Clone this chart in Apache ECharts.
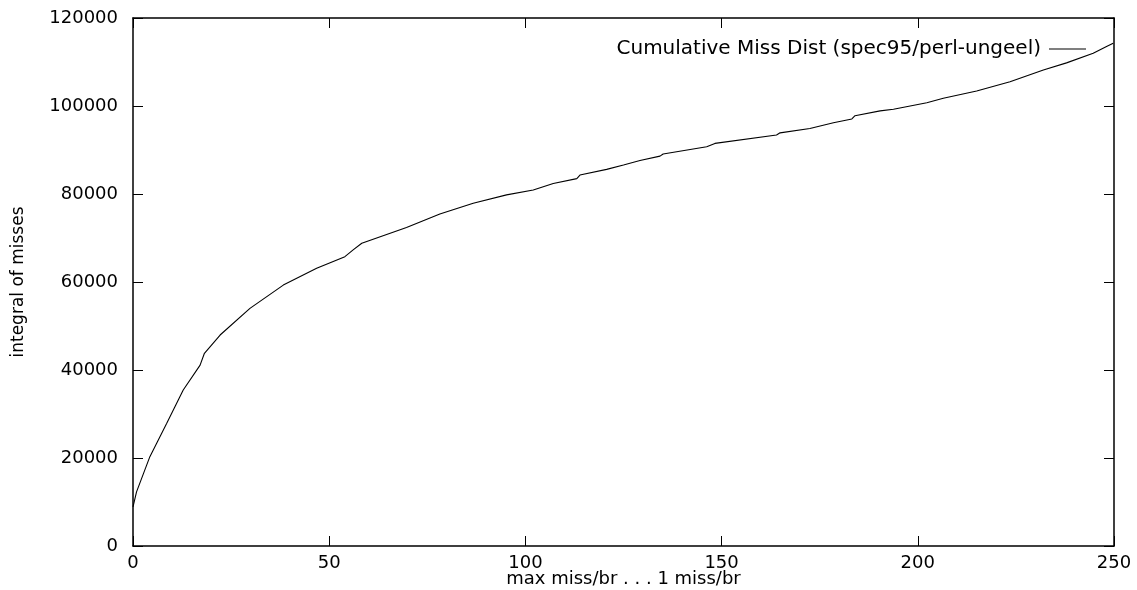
<!DOCTYPE html>
<html>
<head>
<meta charset="utf-8">
<script src="https://cdn.jsdelivr.net/npm/echarts@6/dist/echarts.min.js"></script>
<style>
  html, body { margin: 0; padding: 0; background: #fff; }
  #chart { width: 1137px; height: 590px; }
</style>
</head>
<body>
<div id="chart"></div>
<script>
// x: max miss/br ... 1 miss/br, y: integral of misses
const missX = [0, 0.9, 4.3, 8.6, 12.8, 17.1, 18.2, 22.2, 29.8, 38.3, 46.8, 54.0, 56.1, 58.3,
  69.7, 78.2, 86.7, 95.2, 102, 107.1, 113.1, 113.9, 120.7, 125, 129.2, 134.3, 135.1,
  146.2, 148.3, 164, 164.9, 172.5, 178.5, 183.2, 184, 190.4, 193.8, 202.3, 206.5,
  215, 223.5, 232, 237.9, 244.7, 248.1, 249.8];
const missY = [8900, 12300, 20300, 27900, 35450, 41100, 43800, 47950, 54000, 59300, 63100, 65750, 67300, 68800,
  72400, 75450, 77900, 79800, 80900, 82400, 83500, 84300, 85600, 86600, 87600, 88600, 89100,
  90750, 91500, 93400, 93900, 94900, 96200, 97050, 97800, 98900, 99250, 100750, 101750,
  103400, 105500, 108200, 109800, 111970, 113500, 114250];
const seriesName = 'Cumulative Miss Dist (spec95/perl-ungeel)';

const chart = echarts.init(document.getElementById('chart'));
const font = 'DejaVu Sans, sans-serif';
const axisLine = { show: true, onZero: false, lineStyle: { color: '#000', width: 1.5 } };
const tick = { show: true, inside: true, length: 10, lineStyle: { color: '#000', width: 1 } };
const plain = v => String(v);

chart.setOption({
  animation: false,
  backgroundColor: '#fff',
  grid: { left: 133, right: 23, top: 18, bottom: 44, containLabel: false, outerBoundsMode: 'none' },
  legend: {
    data: [{ name: seriesName, icon: 'path://M0,0H40V1H0Z' }],
    right: 46,
    top: 34,
    align: 'right',
    itemWidth: 37,
    itemHeight: 1.2,
    itemGap: 8,
    textStyle: { fontFamily: font, fontSize: 20, color: '#000', padding: [0, 3, 0, 0] }
  },
  xAxis: [
    {
      type: 'value', min: 0, max: 250, interval: 50,
      name: 'max miss/br . . . 1 miss/br', nameLocation: 'middle', nameGap: 24,
      nameMoveOverlap: false,
      nameTextStyle: { fontFamily: font, fontSize: 18, color: '#000' },
      axisLine: axisLine, axisTick: tick, splitLine: { show: false },
      axisLabel: { fontFamily: font, fontSize: 18, color: '#000', margin: 8, formatter: plain }
    },
    {
      type: 'value', min: 0, max: 250, interval: 50, position: 'top',
      axisLine: axisLine, axisTick: tick, splitLine: { show: false },
      axisLabel: { show: false }
    }
  ],
  yAxis: [
    {
      type: 'value', min: 0, max: 120000, interval: 20000,
      name: 'integral of misses', nameLocation: 'middle', nameGap: 106,
      nameMoveOverlap: false,
      nameTextStyle: { fontFamily: font, fontSize: 17, color: '#000' },
      axisLine: axisLine, axisTick: tick, splitLine: { show: false },
      axisLabel: { fontFamily: font, fontSize: 18, color: '#000', margin: 15, formatter: plain }
    },
    {
      type: 'value', min: 0, max: 120000, interval: 20000, position: 'right',
      axisLine: axisLine, axisTick: tick, splitLine: { show: false },
      axisLabel: { show: false }
    }
  ],
  series: [
    {
      name: seriesName,
      type: 'line',
      symbol: 'none',
      data: missX.map((x, i) => [x, missY[i]]),
      lineStyle: { color: '#000', width: 1.1 },
      itemStyle: { color: '#000' }
    }
  ]
});
</script>
</body>
</html>
